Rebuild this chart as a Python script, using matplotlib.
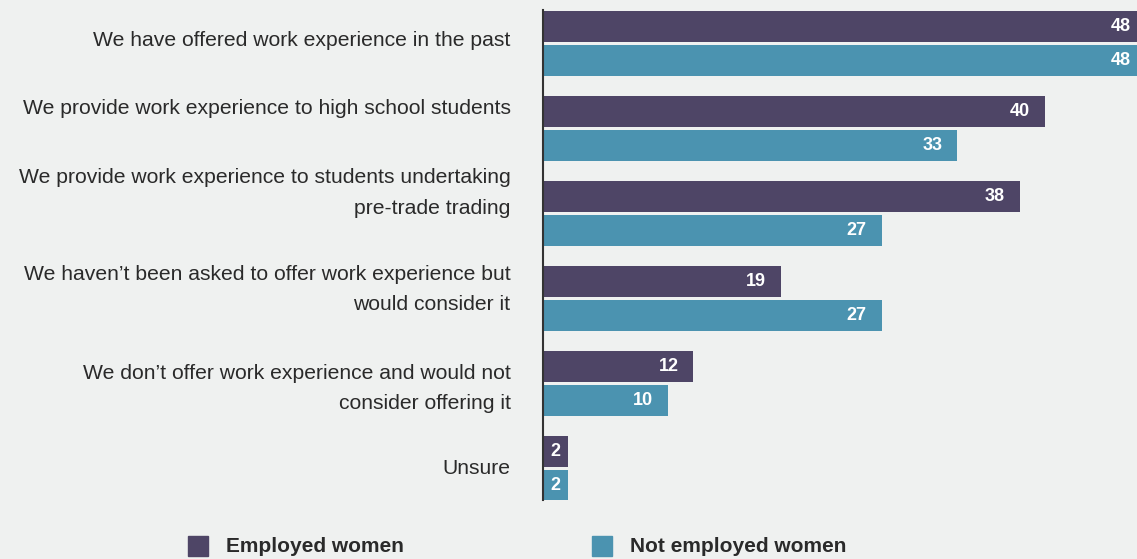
import matplotlib.pyplot as plt
from matplotlib.patches import Rectangle
import numpy as np

categories = [
    "We have offered work experience in the past",
    "We provide work experience to high school students",
    "We provide work experience to students undertaking\npre-trade trading",
    "We haven\u2019t been asked to offer work experience but\nwould consider it",
    "We don\u2019t offer work experience and would not\nconsider offering it",
    "Unsure",
]
employed = [48, 40, 38, 19, 12, 2]
not_employed = [48, 33, 27, 27, 10, 2]
series_names = ["Employed women", "Not employed women"]

PURPLE = "#4e4566"
TEAL = "#4b93b0"
BG = "#eff1f0"
TEXT = "#2a2a2a"

plt.rcParams['font.family'] = ['Liberation Sans', 'DejaVu Sans']

fig = plt.figure(figsize=(11.37, 5.59), dpi=100, facecolor=BG)
ax = fig.add_axes([0.4773, 0.1055, 0.5227, 0.8765], facecolor=BG)

y = np.arange(len(categories))
h = 0.365
off = 0.2

ax.barh(y - off, employed, height=h, color=PURPLE)
ax.barh(y + off, not_employed, height=h, color=TEAL)

# value labels inside the bar ends
for vals, dy in ((employed, -off), (not_employed, off)):
    for yi, v in zip(y, vals):
        if v > 4:
            ax.text(v - 1.2, yi + dy, str(v), ha='right', va='center',
                    color='white', fontsize=13, fontweight='bold')
        else:
            ax.text(v / 2, yi + dy, str(v), ha='center', va='center',
                    color='white', fontsize=13, fontweight='bold')

ax.set_xlim(0, 47.3)
ax.set_ylim(len(categories) - 1 + 0.377, -0.395)

# category labels, nudged a little per row
label_shift = [-0.04, -0.24, -0.24, -0.10, 0.06, 0.0]
for yi, cat, s in zip(y, categories, label_shift):
    ax.text(-2.55, yi + s, cat, ha='right', va='center', color=TEXT,
            fontsize=15.2, linespacing=1.75, clip_on=False)

ax.set_yticks([])
ax.set_xticks([])
for side in ('top', 'right', 'bottom'):
    ax.spines[side].set_visible(False)
ax.spines['left'].set_color('#333333')
ax.spines['left'].set_linewidth(1.5)

# legend along the bottom
W, H = 1137, 559
for x0, col, name in ((188, PURPLE, series_names[0]), (592, TEAL, series_names[1])):
    fig.patches.append(Rectangle((x0 / W, (H - 556) / H), 20 / W, 20 / H,
                                 transform=fig.transFigure, color=col))
    fig.text((x0 + 38) / W, (H - 547) / H, name, ha='left', va='center',
             fontsize=15, fontweight='bold', color=TEXT)

fig.savefig("out.png", dpi=100, facecolor=BG)
